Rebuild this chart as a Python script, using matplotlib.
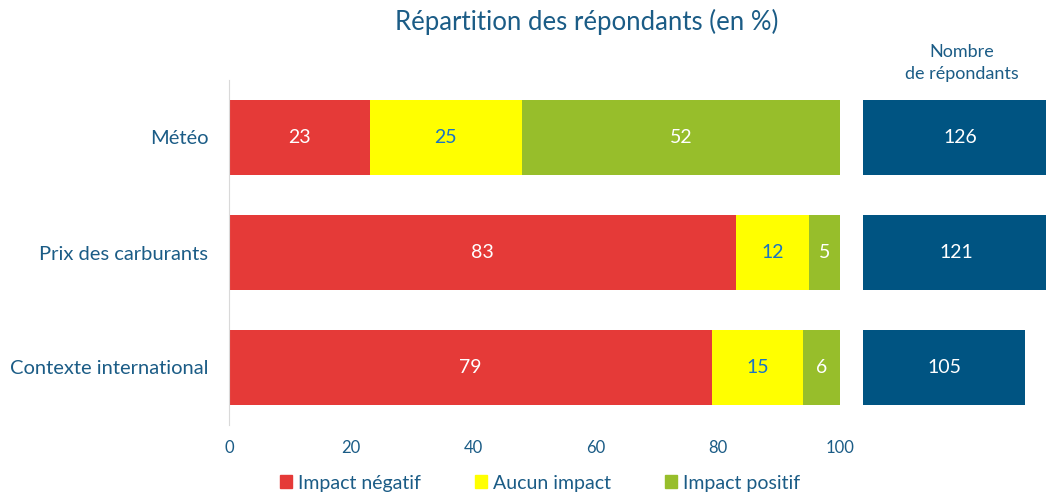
import matplotlib
matplotlib.use("Agg")
import matplotlib.pyplot as plt
from matplotlib.patches import Patch

# data
categories = ["Météo", "Prix des carburants", "Contexte international"]
negatif = [23, 83, 79]
aucun = [25, 12, 15]
positif = [52, 5, 6]
nb_repondants = [126, 121, 105]
ticks = [0, 20, 40, 60, 80, 100]

text_col = "#1B5C86"
red = "#E53A38"
yellow = "#FFFF00"
green = "#97BE2B"
navy = "#005482"

plt.rcParams['font.family'] = ['Lato', 'DejaVu Sans']

fig = plt.figure(figsize=(10.46, 4.96), dpi=100)
ax = fig.add_axes([229 / 1046, 1 - 425 / 496, 611 / 1046, 345 / 496])
ax2 = fig.add_axes([863 / 1046, 1 - 425 / 496, 183 / 1046, 345 / 496])

y = list(range(len(categories)))
h = 0.66
left2 = negatif
left3 = [a + b for a, b in zip(negatif, aucun)]
ax.barh(y, negatif, height=h, color=red)
ax.barh(y, aucun, left=left2, height=h, color=yellow)
ax.barh(y, positif, left=left3, height=h, color=green)

for i in y:
    ax.text(negatif[i] / 2, i, str(negatif[i]), ha="center", va="center",
            color="white", fontsize=14)
    ax.text(left2[i] + aucun[i] / 2, i, str(aucun[i]), ha="center", va="center",
            color="#1A74C4", fontsize=14)
    ax.text(left3[i] + positif[i] / 2, i, str(positif[i]), ha="center", va="center",
            color="white", fontsize=14)

ax.set_xlim(0, 100)
ax.set_ylim(2.5, -0.5)
ax.set_yticks(y)
ax.set_yticklabels(categories, fontsize=14.5, color=text_col)
ax.set_xticks(ticks)
ax.set_xticklabels([str(t) for t in ticks], fontsize=12, color=text_col)
ax.tick_params(length=0)
ax.tick_params(axis="y", pad=15)
ax.tick_params(axis="x", pad=11)
for s in ["top", "right", "bottom"]:
    ax.spines[s].set_visible(False)
ax.spines["left"].set_color("#D9D9D9")
fig.text(587 / 1046, 1 - 22 / 496, "Répartition des répondants (en %)",
         ha="center", va="center", fontsize=18.5, color=text_col)

# right panel: number of respondents
ax2.barh(y, nb_repondants, height=h, color=navy)
for i in y:
    ax2.text(nb_repondants[i] / 2, i, str(nb_repondants[i]), ha="center",
             va="center", color="white", fontsize=14)
ax2.set_xlim(0, 183 / 162 * 105)
ax2.set_ylim(2.5, -0.5)
ax2.axis("off")
fig.text(962 / 1046, 1 - 63 / 496, "Nombre\nde répondants", ha="center",
         va="center", fontsize=13, color=text_col, linespacing=1.4)

handles = [Patch(color=red, label="Impact négatif"),
           Patch(color=yellow, label="Aucun impact"),
           Patch(color=green, label="Impact positif")]
leg = fig.legend(handles=handles, loc="center", ncol=3, frameon=False,
                 bbox_to_anchor=(540 / 1046, 1 - 483 / 496), fontsize=14,
                 handlelength=0.6, handleheight=0.6, handletextpad=0.3,
                 columnspacing=2.8)
for t in leg.get_texts():
    t.set_color(text_col)

fig.savefig("out.png", dpi=100)
